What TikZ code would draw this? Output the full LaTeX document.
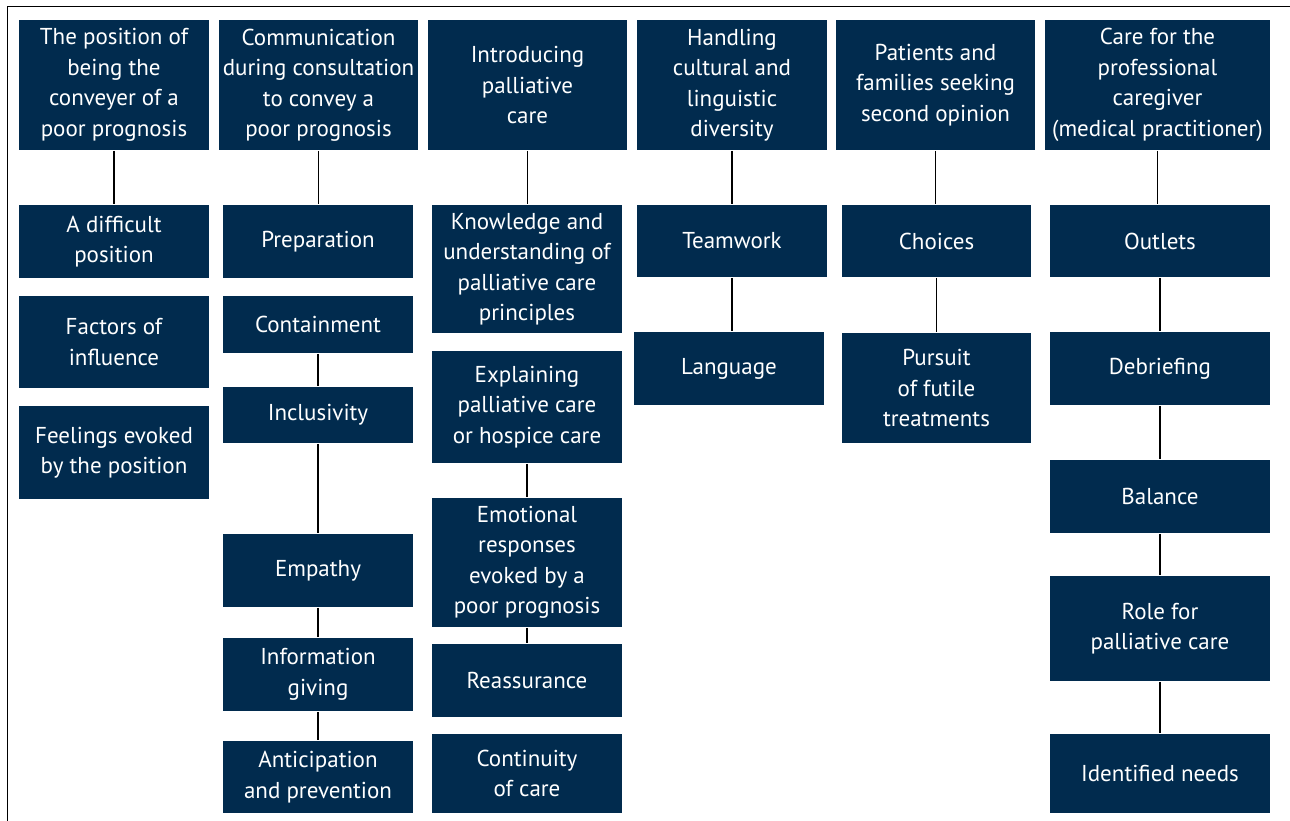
\documentclass[tikz,border=0pt]{standalone}
\usepackage{fontspec}
\setmainfont{PT Sans}
\definecolor{navy}{RGB}{1,43,78}
\tikzset{box/.style={fill=navy, text=white, align=center, inner sep=0pt, font=\fontsize{23}{30.5}\selectfont}}
\newcommand{\bx}[6]{\node[box, minimum width={(#4-#2)*1pt}, minimum height={(#5-#3)*1pt}] (#1) at ({(#2+#4)/2},{-(#3+#5)/2}) {#6};}
\begin{document}
\begin{tikzpicture}[x=1pt, y=1pt, line width=1.8pt]
    \useasboundingbox (0,0) rectangle (1290,-820);
    \draw[line width=0.8pt] (7,-830) -- (7,-6.5) -- (1300,-6.5);
    \bx{c1}{19}{20}{209}{150}{The position of\\being the\\conveyer of a\\poor prognosis}
    \bx{c1a}{19}{205}{209}{278}{A difficult\\position}
    \bx{c1b}{19}{296}{209}{388}{Factors of\\influence}
    \bx{c1c}{19}{406}{209}{499}{Feelings evoked\\by the position}
    \bx{c2}{219}{20}{418}{150}{Communication\\during consultation\\to convey a\\poor prognosis}
    \bx{c2a}{223}{205}{413}{278}{Preparation}
    \bx{c2b}{223}{296}{413}{353}{Containment}
    \bx{c2c}{223}{387}{413}{443}{Inclusivity}
    \bx{c2d}{223}{534}{413}{607}{Empathy}
    \bx{c2e}{223}{638}{413}{711}{Information\\giving}
    \bx{c2f}{223}{741}{413}{813}{Anticipation\\and prevention}
    \bx{c3}{428}{20}{627}{150}{Introducing\\palliative\\care}
    \bx{c3a}{432}{205}{622}{333}{Knowledge and\\understanding of\\palliative care\\principles}
    \bx{c3b}{432}{351}{622}{463}{Explaining\\palliative care\\or hospice care}
    \bx{c3c}{432}{498}{622}{627}{Emotional\\responses\\evoked by a\\poor prognosis}
    \bx{c3d}{432}{644}{622}{717}{Reassurance}
    \bx{c3e}{432}{734}{622}{813}{Continuity\\of care}
    \bx{c4}{637}{20}{827}{150}{Handling\\cultural and\\linguistic\\diversity}
    \bx{c4a}{637}{205}{827}{277}{Teamwork}
    \bx{c4b}{634}{332}{824}{405}{Language}
    \bx{c5}{836}{20}{1035}{150}{Patients and\\families seeking\\second opinion}
    \bx{c5a}{842}{205}{1031}{277}{Choices}
    \bx{c5b}{842}{333}{1031}{443}{Pursuit\\of futile\\treatments}
    \bx{c6}{1045}{20}{1270}{150}{Care for the\\professional\\caregiver\\(medical practitioner)}
    \bx{c6a}{1050}{205}{1270}{277}{Outlets}
    \bx{c6b}{1050}{332}{1270}{405}{Debriefing}
    \bx{c6c}{1050}{460}{1270}{533}{Balance}
    \bx{c6d}{1050}{576}{1270}{681}{Role for\\palliative care}
    \bx{c6e}{1050}{734}{1270}{813}{Identified needs}
    \foreach \a/\b in {c1/c1a, c2/c2a, c2b/c2c, c2c/c2d, c2d/c2e, c2e/c2f, c3/c3a, c3b/c3c, c3c/c3d, c4/c4a, c4a/c4b, c5/c5a, c5a/c5b, c6/c6a, c6a/c6b, c6b/c6c, c6c/c6d, c6d/c6e}
        \draw (\a.south) -- (\a.south |- \b.north);
\end{tikzpicture}
\end{document}
